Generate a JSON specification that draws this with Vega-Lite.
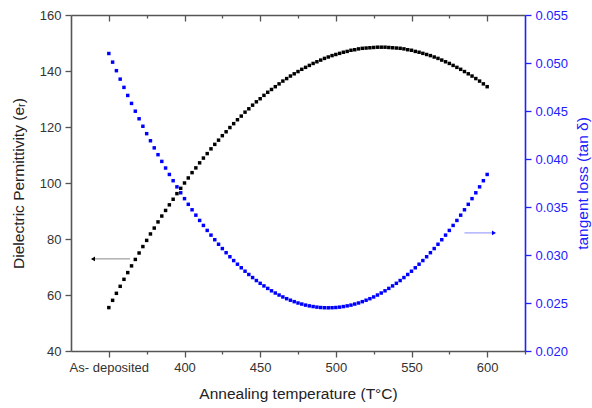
{
  "$schema": "https://vega.github.io/schema/vega-lite/v6.json",
  "width": 454,
  "height": 336,
  "autosize": "none",
  "padding": {"left": 71, "top": 15, "right": 67, "bottom": 57},
  "config": {
    "view": {"stroke": null},
    "font": "Liberation Sans",
    "axis": {"grid": false, "labelFont": "Liberation Sans", "titleFont": "Liberation Sans", "labelFontSize": 13, "titleFontSize": 15.5, "titleFontWeight": "normal", "labelColor": "#333333", "titleColor": "#222222", "domainColor": "#555555", "tickColor": "#555555", "domainWidth": 1.6, "tickWidth": 1.3, "labelOverlap": false, "labelFlush": false}
  },
  "datasets": {
    "main": [
      {"T":350,"eps":55.5,"tan":0.05099},{"T":352.5,"eps":58.1,"tan":0.05009},{"T":355,"eps":60.6,"tan":0.04920},{"T":357.5,"eps":63.1,"tan":0.04832},{"T":360,"eps":65.6,"tan":0.04746},
      {"T":362.5,"eps":68.0,"tan":0.04662},{"T":365,"eps":70.4,"tan":0.04579},{"T":367.5,"eps":72.7,"tan":0.04498},{"T":370,"eps":75.0,"tan":0.04419},{"T":372.5,"eps":77.3,"tan":0.04341},
      {"T":375,"eps":79.5,"tan":0.04264},{"T":377.5,"eps":81.8,"tan":0.04190},{"T":380,"eps":83.9,"tan":0.04116},{"T":382.5,"eps":86.1,"tan":0.04045},{"T":385,"eps":88.2,"tan":0.03975},
      {"T":387.5,"eps":90.2,"tan":0.03906},{"T":390,"eps":92.2,"tan":0.03839},{"T":392.5,"eps":94.2,"tan":0.03774},{"T":395,"eps":96.2,"tan":0.03710},{"T":397.5,"eps":98.1,"tan":0.03648},
      {"T":400,"eps":100.0,"tan":0.03587},{"T":402.5,"eps":101.8,"tan":0.03528},{"T":405,"eps":103.7,"tan":0.03471},{"T":407.5,"eps":105.4,"tan":0.03415},{"T":410,"eps":107.2,"tan":0.03360},
      {"T":412.5,"eps":108.9,"tan":0.03308},{"T":415,"eps":110.5,"tan":0.03256},{"T":417.5,"eps":112.2,"tan":0.03207},{"T":420,"eps":113.8,"tan":0.03159},{"T":422.5,"eps":115.3,"tan":0.03112},
      {"T":425,"eps":116.9,"tan":0.03067},{"T":427.5,"eps":118.3,"tan":0.03024},{"T":430,"eps":119.8,"tan":0.02982},{"T":432.5,"eps":121.2,"tan":0.02942},{"T":435,"eps":122.6,"tan":0.02904},
      {"T":437.5,"eps":123.9,"tan":0.02867},{"T":440,"eps":125.3,"tan":0.02831},{"T":442.5,"eps":126.5,"tan":0.02797},{"T":445,"eps":127.8,"tan":0.02765},{"T":447.5,"eps":129.0,"tan":0.02734},
      {"T":450,"eps":130.1,"tan":0.02705},{"T":452.5,"eps":131.3,"tan":0.02678},{"T":455,"eps":132.4,"tan":0.02652},{"T":457.5,"eps":133.4,"tan":0.02627},{"T":460,"eps":134.4,"tan":0.02604},
      {"T":462.5,"eps":135.4,"tan":0.02583},{"T":465,"eps":136.4,"tan":0.02563},{"T":467.5,"eps":137.3,"tan":0.02545},{"T":470,"eps":138.2,"tan":0.02529},{"T":472.5,"eps":139.0,"tan":0.02514},
      {"T":475,"eps":139.8,"tan":0.02500},{"T":477.5,"eps":140.6,"tan":0.02489},{"T":480,"eps":141.3,"tan":0.02478},{"T":482.5,"eps":142.0,"tan":0.02470},{"T":485,"eps":142.7,"tan":0.02463},
      {"T":487.5,"eps":143.3,"tan":0.02457},{"T":490,"eps":143.9,"tan":0.02453},{"T":492.5,"eps":144.5,"tan":0.02451},{"T":495,"eps":145.0,"tan":0.02450},{"T":497.5,"eps":145.5,"tan":0.02451},
      {"T":500,"eps":145.9,"tan":0.02453},{"T":502.5,"eps":146.3,"tan":0.02457},{"T":505,"eps":146.7,"tan":0.02463},{"T":507.5,"eps":147.0,"tan":0.02470},{"T":510,"eps":147.4,"tan":0.02478},
      {"T":512.5,"eps":147.6,"tan":0.02489},{"T":515,"eps":147.9,"tan":0.02500},{"T":517.5,"eps":148.1,"tan":0.02514},{"T":520,"eps":148.2,"tan":0.02529},{"T":522.5,"eps":148.3,"tan":0.02545},
      {"T":525,"eps":148.4,"tan":0.02563},{"T":527.5,"eps":148.5,"tan":0.02583},{"T":530,"eps":148.5,"tan":0.02604},{"T":532.5,"eps":148.5,"tan":0.02627},{"T":535,"eps":148.4,"tan":0.02652},
      {"T":537.5,"eps":148.3,"tan":0.02678},{"T":540,"eps":148.2,"tan":0.02705},{"T":542.5,"eps":148.1,"tan":0.02734},{"T":545,"eps":147.9,"tan":0.02765},{"T":547.5,"eps":147.6,"tan":0.02797},
      {"T":550,"eps":147.4,"tan":0.02831},{"T":552.5,"eps":147.0,"tan":0.02867},{"T":555,"eps":146.7,"tan":0.02904},{"T":557.5,"eps":146.3,"tan":0.02942},{"T":560,"eps":145.9,"tan":0.02982},
      {"T":562.5,"eps":145.5,"tan":0.03024},{"T":565,"eps":145.0,"tan":0.03067},{"T":567.5,"eps":144.5,"tan":0.03112},{"T":570,"eps":143.9,"tan":0.03159},{"T":572.5,"eps":143.3,"tan":0.03207},
      {"T":575,"eps":142.7,"tan":0.03256},{"T":577.5,"eps":142.0,"tan":0.03308},{"T":580,"eps":141.3,"tan":0.03360},{"T":582.5,"eps":140.6,"tan":0.03415},{"T":585,"eps":139.8,"tan":0.03471},
      {"T":587.5,"eps":139.0,"tan":0.03528},{"T":590,"eps":138.2,"tan":0.03587},{"T":592.5,"eps":137.3,"tan":0.03648},{"T":595,"eps":136.4,"tan":0.03710},{"T":597.5,"eps":135.4,"tan":0.03774},
      {"T":600,"eps":134.4,"tan":0.03839}
    ],
    "arrowL": [{"x1": 339, "x2": 364, "y": 72.9, "head": 339.5}],
    "arrowR": [{"x1": 585, "x2": 605, "y": 0.0323, "head": 604.5}]
  },
  "layer": [
    {
      "layer": [
        {
          "data": {"name": "main"},
          "mark": {"type": "point", "shape": "square", "filled": true, "size": 12, "color": "#000000", "opacity": 1},
          "encoding": {
            "x": {"field": "T", "type": "quantitative", "scale": {"domain": [325, 625], "nice": false, "zero": false},
              "axis": {"orient": "bottom", "title": "Annealing temperature (T°C)", "values": [350, 375, 400, 425, 450, 475, 500, 525, 550, 575, 600, 625],
                "labelExpr": "datum.value == 350 ? 'As- deposited' : (datum.value % 50 == 0 ? datum.label : '')",
                "tickSize": {"condition": {"test": "datum.value % 50 == 0", "value": 6}, "value": 3},
                "labelPadding": 4, "titlePadding": 12}},
            "y": {"field": "eps", "type": "quantitative", "scale": {"domain": [40, 160], "nice": false, "zero": false},
              "axis": {"orient": "left", "title": "Dielectric Permittivity (eᵣ)", "values": [40, 50, 60, 70, 80, 90, 100, 110, 120, 130, 140, 150, 160],
                "labelExpr": "datum.value % 20 == 0 ? datum.label : ''",
                "tickSize": {"condition": {"test": "datum.value % 20 == 0", "value": 6}, "value": 3},
                "labelPadding": 4, "titlePadding": 13}}
          }
        },
        {
          "data": {"name": "arrowL"},
          "mark": {"type": "rule", "color": "#888888", "strokeWidth": 1},
          "encoding": {"x": {"field": "x1", "type": "quantitative"}, "x2": {"field": "x2"}, "y": {"field": "y", "type": "quantitative"}}
        },
        {
          "data": {"name": "arrowL"},
          "mark": {"type": "point", "shape": "triangle-left", "filled": true, "size": 22, "color": "#000000", "opacity": 1},
          "encoding": {"x": {"field": "head", "type": "quantitative"}, "y": {"field": "y", "type": "quantitative"}}
        }
      ]
    },
    {
      "layer": [
        {
          "data": {"name": "main"},
          "mark": {"type": "point", "shape": "square", "filled": true, "size": 12, "color": "#0000ff", "opacity": 1},
          "encoding": {
            "x": {"field": "T", "type": "quantitative", "scale": {"domain": [325, 625], "nice": false, "zero": false},
              "axis": {"orient": "top", "title": null, "values": [350, 375, 400, 425, 450, 475, 500, 525, 550, 575, 600],
                "labels": false,
                "tickSize": {"condition": {"test": "datum.value % 50 == 0", "value": -6}, "value": -3}}},
            "y": {"field": "tan", "type": "quantitative", "scale": {"domain": [0.02, 0.055], "nice": false, "zero": false},
              "axis": {"orient": "right", "title": "tangent loss (tan δ)", "titleAngle": 270, "titleBaseline": "top",
                "values": [0.02, 0.0225, 0.025, 0.0275, 0.03, 0.0325, 0.035, 0.0375, 0.04, 0.0425, 0.045, 0.0475, 0.05, 0.0525, 0.055],
                "labelExpr": "abs(datum.value*200 - round(datum.value*200)) < 0.001 ? format(datum.value, '.3f') : ''",
                "tickSize": {"condition": {"test": "abs(datum.value*200 - round(datum.value*200)) < 0.001", "value": 6}, "value": 3},
                "domainColor": "#2020ff", "tickColor": "#2020ff", "labelColor": "#2020ff", "titleColor": "#2020ff",
                "labelPadding": 4, "titlePadding": 8}}
          }
        },
        {
          "data": {"name": "arrowR"},
          "mark": {"type": "rule", "color": "#8c8cff", "strokeWidth": 1},
          "encoding": {"x": {"field": "x1", "type": "quantitative"}, "x2": {"field": "x2"}, "y": {"field": "y", "type": "quantitative"}}
        },
        {
          "data": {"name": "arrowR"},
          "mark": {"type": "point", "shape": "triangle-right", "filled": true, "size": 22, "color": "#0000ff", "opacity": 1},
          "encoding": {"x": {"field": "head", "type": "quantitative"}, "y": {"field": "y", "type": "quantitative"}}
        }
      ]
    }
  ],
  "resolve": {"scale": {"y": "independent"}, "axis": {"x": "independent", "y": "independent"}}
}
